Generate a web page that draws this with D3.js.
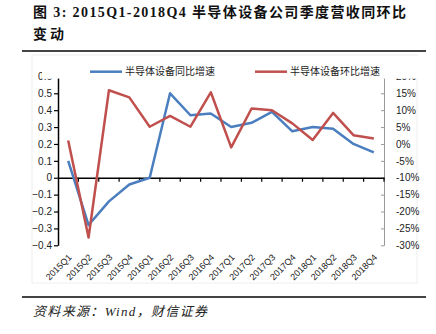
<!DOCTYPE html>
<html><head><meta charset="utf-8">
<script src="https://cdn.jsdelivr.net/npm/d3@7"></script>
<style>
html,body{margin:0;padding:0;background:#fff;}
svg{display:block;}
</style></head>
<body>
<svg id="c" width="436" height="334"></svg>
<script>
const categories = ["2015Q1","2015Q2","2015Q3","2015Q4","2016Q1","2016Q2","2016Q3","2016Q4","2017Q1","2017Q2","2017Q3","2017Q4","2018Q1","2018Q2","2018Q3","2018Q4"];
const yoy = [0.10,-0.28,-0.14,-0.04,0.00,0.50,0.37,0.38,0.30,0.325,0.39,0.275,0.30,0.29,0.20,0.15];
const qoq = [1.0,-27.7,15.9,13.8,5.1,8.3,5.1,15.3,-1.0,10.5,10.0,6.1,1.2,9.2,2.6,1.6];
const leftTicks = [-0.4,-0.3,-0.2,-0.1,0,0.1,0.2,0.3,0.4,0.5,0.6];
const rightTicks = [-30,-25,-20,-15,-10,-5,0,5,10,15,20];
const seriesNames = ["半导体设备同比增速","半导体设备环比增速"];
const colors = ["#4a7ebf","#c0504d"];

const svg = d3.select("#c");
const sans = "'Liberation Sans', Arial, 'Noto Sans CJK SC', sans-serif";
const cjk = "'Liberation Sans', 'Noto Sans CJK SC', sans-serif";

// Title
svg.append("text").attr("x",33).attr("y",17)
  .attr("font-family","'Liberation Serif','Noto Sans CJK SC',serif").attr("font-weight","bold")
  .attr("font-size",14).attr("fill","#111")
  .attr("textLength",373).attr("lengthAdjust","spacing")
  .text("图 3: 2015Q1-2018Q4 半导体设备公司季度营收同环比");
svg.append("text").attr("x",33).attr("y",39)
  .attr("font-family","'Liberation Serif','Noto Sans CJK SC',serif").attr("font-weight","bold")
  .attr("font-size",14).attr("fill","#111").attr("letter-spacing",3)
  .text("变动");
svg.append("line").attr("x1",22).attr("x2",426).attr("y1",51).attr("y2",51)
  .attr("stroke","#444").attr("stroke-width",2);

// chart area faint border
svg.append("rect").attr("x",32).attr("y",55).attr("width",385).attr("height",228)
  .attr("fill","none").attr("stroke","#eeeeee").attr("stroke-width",1);

const X0 = 58, X1 = 384;
const x = d3.scaleBand().domain(categories).range([X0,X1]).padding(0);
const yL = d3.scaleLinear().domain([-0.4,0.6]).range([245.3,76.4]);
const yR = d3.scaleLinear().domain([-30,20]).range([245.3,76.4]);

// left axis
const gL = svg.append("g").attr("transform",`translate(${X0},0)`)
  .call(d3.axisLeft(yL).tickValues(leftTicks).tickSize(4).tickSizeOuter(0).tickFormat(d=>d===0?"0":d3.format(".1f")(d)));
gL.select(".domain").attr("stroke","#000").attr("stroke-width",1.5);
gL.selectAll(".tick line").attr("stroke","#000").attr("stroke-width",1.2);
gL.selectAll(".tick text").attr("font-family",sans).attr("font-size",10).attr("fill","#222").attr("x",-6);

// right axis
const gR = svg.append("g").attr("transform",`translate(${X1},0)`)
  .call(d3.axisRight(yR).tickValues(rightTicks).tickSize(-3).tickSizeOuter(0).tickFormat(d=>d+"%"));
gR.select(".domain").attr("stroke","#999").attr("stroke-width",1);
gR.selectAll(".tick line").attr("stroke","#999");
gR.selectAll(".tick text").attr("font-family",sans).attr("font-size",10).attr("fill","#222").attr("x",12);

// x axis at zero
const gX = svg.append("g").attr("transform",`translate(0,${yL(0)})`)
  .call(d3.axisBottom(x).tickSize(0).tickSizeOuter(0).tickFormat(""));
gX.select(".domain").attr("stroke","#000").attr("stroke-width",1.5);
gX.selectAll(".tick").remove();
const bounds = categories.map((c)=>x(c)).concat([X1]);
svg.append("g").selectAll("line").data(bounds.slice(1)).join("line")
  .attr("x1",d=>d).attr("x2",d=>d).attr("y1",yL(0)).attr("y2",yL(0)+4)
  .attr("stroke","#000").attr("stroke-width",1.2);

// x labels
svg.append("g").selectAll("text").data(categories).join("text")
  .attr("transform",d=>`translate(${x(d)+x.bandwidth()/2+4},${258}) rotate(-45)`)
  .attr("text-anchor","end").attr("font-family",sans).attr("font-size",9).attr("fill","#222")
  .text(d=>d);

// lines
const lineL = d3.line().x((d,i)=>x(categories[i])+x.bandwidth()/2).y(d=>yL(d));
const lineR = d3.line().x((d,i)=>x(categories[i])+x.bandwidth()/2).y(d=>yR(d));
svg.append("path").attr("d",lineL(yoy)).attr("fill","none").attr("stroke",colors[0]).attr("stroke-width",2.5).attr("stroke-linejoin","round");
svg.append("path").attr("d",lineR(qoq)).attr("fill","none").attr("stroke",colors[1]).attr("stroke-width",2.5).attr("stroke-linejoin","round");

// legend (covers top of axes)
svg.append("rect").attr("x",42).attr("y",56).attr("width",380).attr("height",22.6).attr("fill","#fff");
const legX = [90,255];
seriesNames.forEach((n,i)=>{
  svg.append("line").attr("x1",legX[i]).attr("x2",legX[i]+32).attr("y1",71.7).attr("y2",71.7)
    .attr("stroke",colors[i]).attr("stroke-width",2.5);
  svg.append("text").attr("x",legX[i]+35).attr("y",75.3).attr("font-family",cjk).attr("font-size",10)
    .attr("fill","#222").text(n);
});

// bottom rule and source
svg.append("line").attr("x1",22).attr("x2",426).attr("y1",297).attr("y2",297)
  .attr("stroke","#444").attr("stroke-width",2);
svg.append("text").attr("x",33).attr("y",316)
  .attr("font-family","'Liberation Serif','Noto Sans CJK SC',serif").attr("font-style","italic")
  .attr("font-size",13).attr("fill","#222").attr("textLength",174).attr("lengthAdjust","spacing")
  .text("资料来源：Wind，财信证券");
</script>
</body></html>
